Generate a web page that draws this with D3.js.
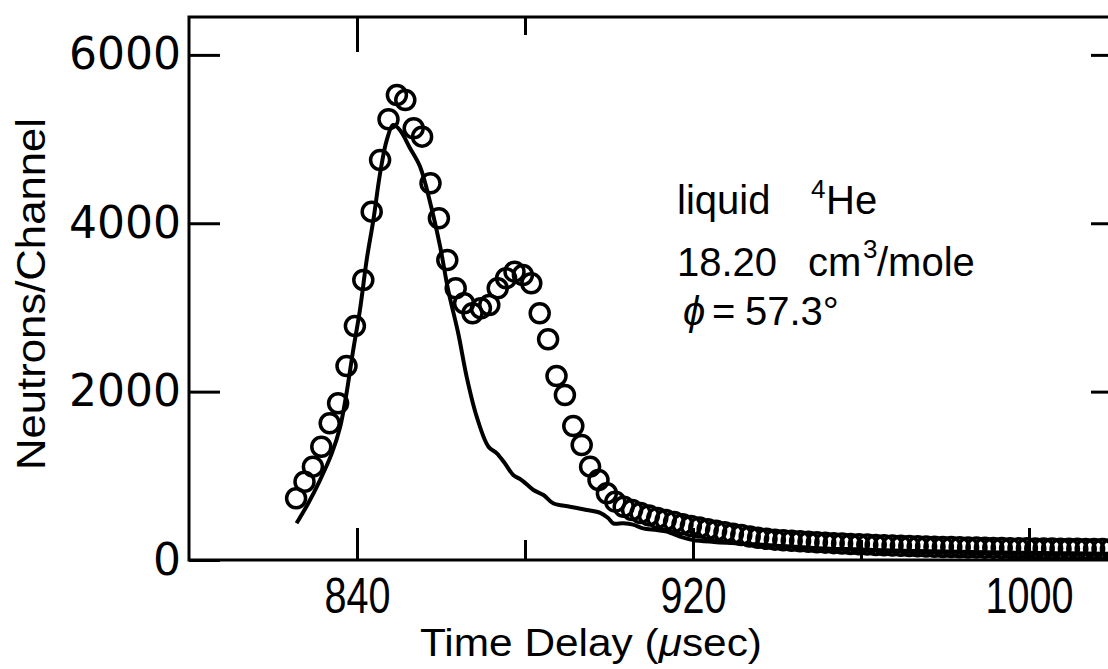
<!DOCTYPE html>
<html>
<head>
<meta charset="utf-8">
<script src="https://cdn.jsdelivr.net/npm/d3@7"></script>
<style>
    body { margin: 0; background: #fff; }
    svg { display: block; }
</style>
</head>
<body>
<svg id="chart" width="1108" height="669"></svg>
<script>
// measured channels (open circles)
const delayUs = [
    825.5, 827.5, 829.5, 831.5, 833.5, 835.5, 837.5, 839.5, 841.5, 843.5,
    845.5, 847.5, 849.5, 851.5, 853.5, 855.5, 857.5, 859.5, 861.5, 863.5,
    865.5, 867.5, 869.5, 871.5, 873.5, 875.5, 877.5, 879.5, 881.5, 883.5,
    885.5, 887.5, 889.5, 891.5, 893.5, 895.5, 897.5, 899.5, 901.5, 903.5,
    905.5, 907.5, 909.5, 911.5, 913.5, 915.5, 917.5, 919.5, 921.5, 923.5,
    925.5, 927.5, 929.5, 931.5, 933.5, 935.5, 937.5, 939.5, 941.5, 943.5,
    945.5, 947.5, 949.5, 951.5, 953.5, 955.5, 957.5, 959.5, 961.5, 963.5,
    965.5, 967.5, 969.5, 971.5, 973.5, 975.5, 977.5, 979.5, 981.5, 983.5,
    985.5, 987.5, 989.5, 991.5, 993.5, 995.5, 997.5, 999.5, 1001.5, 1003.5,
    1005.5, 1007.5, 1009.5, 1011.5, 1013.5, 1015.5, 1017.5, 1019.5
];
const neutrons = [
    733, 930, 1109, 1346, 1624, 1861, 2305, 2780, 3326, 4138,
    4752, 5236, 5524, 5465, 5129, 5029, 4475, 4059, 3564, 3228,
    3050, 2931, 2990, 3029, 3228, 3346, 3425, 3386, 3287, 2931,
    2622, 2186, 1960, 1592, 1366, 1109, 950, 792, 693, 633,
    594, 558, 530, 500, 476, 452, 425, 404, 385, 366,
    348, 330, 312, 296, 280, 264, 252, 242, 234, 228,
    222, 216, 211, 206, 200, 196, 191, 187, 183, 179,
    175, 172, 168, 165, 162, 160, 157, 155, 153, 151,
    149, 147, 146, 144, 143, 141, 140, 139, 138, 137,
    136, 135, 134, 133, 132, 132, 131, 130
];

// calculated curve (solid line)
const fitDelayUs = [
    825.6, 828.4, 831.2, 834, 836, 837.5, 839.1, 840.7, 842.3, 843.9,
    845.5, 847.1, 848.6, 850.2, 852.6, 855, 857.5, 859.8, 861.7, 864.1,
    866.1, 868.5, 871.3, 873.3, 875.2, 877.2, 879.2, 882, 884.4, 886.7,
    890.7, 894.7, 897.9, 899.8, 901, 903.4, 905.7, 908.1, 911.4, 913.8,
    916.9, 920, 925, 930, 940, 950, 960, 970, 980, 990,
    1000, 1010, 1020
];
const fitNeutrons = [
    436, 674, 950, 1267, 1584, 1980, 2495, 2970, 3564, 4040,
    4594, 4990, 5168, 5108, 4894, 4673, 4230, 3722, 3208, 2693,
    2178, 1703, 1346, 1267, 1149, 1010, 950, 832, 772, 674,
    633, 594, 560, 499, 436, 436, 420, 376, 356, 337,
    277, 238, 215, 200, 170, 140, 125, 110, 100, 92,
    85, 80, 75
];

const xLabelTicks = [840, 920, 1000];
const xMinorTicks = [880, 960];
const xTopTicks = [840, 880];
const yTicks = [0, 2000, 4000, 6000];
const yRightTicks = [2000, 4000, 6000];

const svg = d3.select("#chart");

const frame = {left: 189, right: 1113, top: 17, bottom: 560};

const x = d3.scaleLinear()
    .domain([800, 1020])
    .range([frame.left, frame.right]);

const y = d3.scaleLinear()
    .domain([0, 6450])
    .range([frame.bottom, frame.top]);

const ink = "#000";

// bottom axis, labelled ticks (inward)
const gx = svg.append("g")
    .attr("transform", "translate(0," + frame.bottom + ")")
    .call(d3.axisBottom(x).tickValues(xLabelTicks).tickSizeInner(-32).tickSizeOuter(0).tickPadding(0).tickFormat(d3.format("d")));
gx.select(".domain").remove();
gx.selectAll(".tick line").attr("stroke", ink).attr("stroke-width", 3);
gx.selectAll(".tick text")
    .attr("y", 53)
    .attr("dy", null)
    .attr("font-family", "'Liberation Sans', Arial, sans-serif")
    .attr("font-size", 50)
    .attr("fill", ink)
    .attr("textLength", function (d) { return d >= 1000 ? 88 : 66; })
    .attr("lengthAdjust", "spacingAndGlyphs");

// bottom minor ticks
const gxm = svg.append("g")
    .attr("transform", "translate(0," + frame.bottom + ")")
    .call(d3.axisBottom(x).tickValues(xMinorTicks).tickSizeInner(-20).tickSizeOuter(0).tickFormat(""));
gxm.select(".domain").remove();
gxm.selectAll(".tick line").attr("stroke", ink).attr("stroke-width", 3);

// top ticks
const gxt = svg.append("g")
    .attr("transform", "translate(0," + frame.top + ")")
    .call(d3.axisTop(x).tickValues(xTopTicks).tickSizeOuter(0).tickFormat(""));
gxt.select(".domain").remove();
gxt.selectAll(".tick line")
    .attr("y2", function (d) { return d === 840 ? 35 : 18; })
    .attr("stroke", ink).attr("stroke-width", 3);

// left axis
const gy = svg.append("g")
    .attr("transform", "translate(" + frame.left + ",0)")
    .call(d3.axisLeft(y).tickValues(yTicks).tickSizeInner(-31).tickSizeOuter(0).tickPadding(8).tickFormat(d3.format("d")));
gy.select(".domain").remove();
gy.selectAll(".tick line").attr("stroke", ink).attr("stroke-width", 3);
gy.selectAll(".tick text")
    .attr("font-family", "'DejaVu Sans', sans-serif")
    .attr("font-size", 44)
    .attr("fill", ink);

// right ticks
const gyr = svg.append("g")
    .attr("transform", "translate(" + frame.right + ",0)")
    .call(d3.axisRight(y).tickValues(yRightTicks).tickSizeInner(-22).tickSizeOuter(0).tickFormat(""));
gyr.select(".domain").remove();
gyr.selectAll(".tick line").attr("stroke", ink).attr("stroke-width", 3);

// frame
svg.append("path")
    .attr("d", "M" + frame.right + "," + frame.top + "H" + frame.left + "V" + frame.bottom + "H" + frame.right)
    .attr("fill", "none")
    .attr("stroke", ink)
    .attr("stroke-width", 3);

// calculated line
const line = d3.line()
    .x(function (d, i) { return x(fitDelayUs[i]); })
    .y(function (d) { return y(d); })
    .curve(d3.curveCatmullRom);

svg.append("path")
    .datum(fitNeutrons)
    .attr("d", line)
    .attr("fill", "none")
    .attr("stroke", ink)
    .attr("stroke-width", 4)
    .attr("stroke-linejoin", "round");

// measured points
svg.append("g")
    .selectAll("circle")
    .data(neutrons)
    .enter()
    .append("circle")
    .attr("cx", function (d, i) { return x(delayUs[i]); })
    .attr("cy", function (d) { return y(d); })
    .attr("r", 9.5)
    .attr("fill", "none")
    .attr("stroke", ink)
    .attr("stroke-width", 3.5);

// axis titles
svg.append("text")
    .attr("x", 591)
    .attr("y", 656)
    .attr("text-anchor", "middle")
    .attr("font-family", "'Liberation Sans', Arial, sans-serif")
    .attr("font-size", 38)
    .attr("fill", ink)
    .attr("textLength", 342)
    .attr("lengthAdjust", "spacingAndGlyphs")
    .html("Time Delay (<tspan font-style='italic'>μ</tspan>sec)");

svg.append("text")
    .attr("transform", "translate(45,294) rotate(-90)")
    .attr("text-anchor", "middle")
    .attr("font-family", "'Liberation Sans', Arial, sans-serif")
    .attr("font-size", 40)
    .attr("fill", ink)
    .attr("textLength", 352)
    .attr("lengthAdjust", "spacingAndGlyphs")
    .text("Neutrons/Channel");

// annotation
const note = svg.append("g")
    .attr("font-family", "'Liberation Sans', Arial, sans-serif")
    .attr("font-size", 40)
    .attr("fill", ink);

note.append("text").attr("x", 677).attr("y", 214).text("liquid");
note.append("text").attr("x", 811).attr("y", 198).attr("font-size", 26).text("4");
note.append("text").attr("x", 826).attr("y", 214).text("He");

note.append("text").attr("x", 677).attr("y", 276).text("18.20");
note.append("text").attr("x", 808).attr("y", 276).text("cm");
note.append("text").attr("x", 863).attr("y", 258).attr("font-size", 26).text("3");
note.append("text").attr("x", 877).attr("y", 276).text("/mole");

note.append("text").attr("x", 683).attr("y", 325).attr("font-style", "italic").text("ϕ");
note.append("text").attr("x", 712).attr("y", 325).text("=");
note.append("text").attr("x", 745).attr("y", 325).text("57.3°");
</script>
</body>
</html>
